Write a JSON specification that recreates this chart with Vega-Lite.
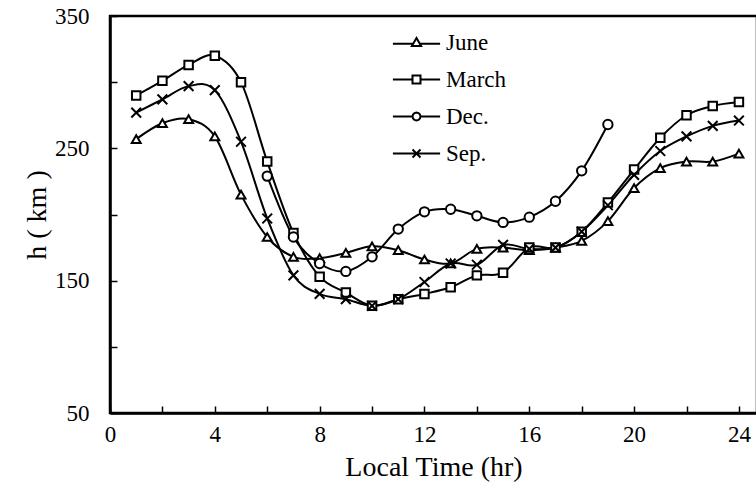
{
  "$schema": "https://vega.github.io/schema/vega-lite/v6.json",
  "width": 647,
  "height": 397,
  "autosize": {"type": "none"},
  "padding": {"left": 110, "top": 16, "right": 0, "bottom": 79},
  "background": "white",
  "config": {
    "view": {"stroke": "black", "strokeWidth": 2.5},
    "font": "Liberation Serif"
  },
  "data": {
    "values": [
      {"month": "June", "t": 1, "h": 257}, {"month": "June", "t": 2, "h": 269}, {"month": "June", "t": 3, "h": 272},
      {"month": "June", "t": 4, "h": 259}, {"month": "June", "t": 5, "h": 215}, {"month": "June", "t": 6, "h": 183},
      {"month": "June", "t": 7, "h": 168}, {"month": "June", "t": 8, "h": 167}, {"month": "June", "t": 9, "h": 171},
      {"month": "June", "t": 10, "h": 176}, {"month": "June", "t": 11, "h": 173}, {"month": "June", "t": 12, "h": 166},
      {"month": "June", "t": 13, "h": 163}, {"month": "June", "t": 14, "h": 174}, {"month": "June", "t": 15, "h": 175},
      {"month": "June", "t": 16, "h": 173}, {"month": "June", "t": 17, "h": 175}, {"month": "June", "t": 18, "h": 180},
      {"month": "June", "t": 19, "h": 195}, {"month": "June", "t": 20, "h": 220}, {"month": "June", "t": 21, "h": 235},
      {"month": "June", "t": 22, "h": 240}, {"month": "June", "t": 23, "h": 240}, {"month": "June", "t": 24, "h": 246},
      {"month": "March", "t": 1, "h": 290}, {"month": "March", "t": 2, "h": 301}, {"month": "March", "t": 3, "h": 313},
      {"month": "March", "t": 4, "h": 320}, {"month": "March", "t": 5, "h": 300}, {"month": "March", "t": 6, "h": 240},
      {"month": "March", "t": 7, "h": 186}, {"month": "March", "t": 8, "h": 153}, {"month": "March", "t": 9, "h": 141},
      {"month": "March", "t": 10, "h": 131}, {"month": "March", "t": 11, "h": 136}, {"month": "March", "t": 12, "h": 140},
      {"month": "March", "t": 13, "h": 145}, {"month": "March", "t": 14, "h": 154}, {"month": "March", "t": 15, "h": 156},
      {"month": "March", "t": 16, "h": 175}, {"month": "March", "t": 17, "h": 175}, {"month": "March", "t": 18, "h": 187},
      {"month": "March", "t": 19, "h": 209}, {"month": "March", "t": 20, "h": 234}, {"month": "March", "t": 21, "h": 258},
      {"month": "March", "t": 22, "h": 275}, {"month": "March", "t": 23, "h": 282}, {"month": "March", "t": 24, "h": 285},
      {"month": "Dec.", "t": 6, "h": 229}, {"month": "Dec.", "t": 7, "h": 183}, {"month": "Dec.", "t": 8, "h": 163},
      {"month": "Dec.", "t": 9, "h": 157}, {"month": "Dec.", "t": 10, "h": 168}, {"month": "Dec.", "t": 11, "h": 189},
      {"month": "Dec.", "t": 12, "h": 202}, {"month": "Dec.", "t": 13, "h": 204}, {"month": "Dec.", "t": 14, "h": 199},
      {"month": "Dec.", "t": 15, "h": 194}, {"month": "Dec.", "t": 16, "h": 198}, {"month": "Dec.", "t": 17, "h": 210},
      {"month": "Dec.", "t": 18, "h": 233}, {"month": "Dec.", "t": 19, "h": 268},
      {"month": "Sep.", "t": 1, "h": 277}, {"month": "Sep.", "t": 2, "h": 287}, {"month": "Sep.", "t": 3, "h": 297},
      {"month": "Sep.", "t": 4, "h": 294}, {"month": "Sep.", "t": 5, "h": 255}, {"month": "Sep.", "t": 6, "h": 197},
      {"month": "Sep.", "t": 7, "h": 154}, {"month": "Sep.", "t": 8, "h": 140}, {"month": "Sep.", "t": 9, "h": 136},
      {"month": "Sep.", "t": 10, "h": 131}, {"month": "Sep.", "t": 11, "h": 136}, {"month": "Sep.", "t": 12, "h": 149},
      {"month": "Sep.", "t": 13, "h": 163}, {"month": "Sep.", "t": 14, "h": 162}, {"month": "Sep.", "t": 15, "h": 177},
      {"month": "Sep.", "t": 16, "h": 174}, {"month": "Sep.", "t": 17, "h": 175}, {"month": "Sep.", "t": 18, "h": 187},
      {"month": "Sep.", "t": 19, "h": 207}, {"month": "Sep.", "t": 20, "h": 230}, {"month": "Sep.", "t": 21, "h": 248},
      {"month": "Sep.", "t": 22, "h": 259}, {"month": "Sep.", "t": 23, "h": 267}, {"month": "Sep.", "t": 24, "h": 271}
    ]
  },
  "encoding": {
    "x": {
      "field": "t", "type": "quantitative",
      "scale": {"domain": [0, 24.69], "nice": false, "zero": false},
      "axis": {
        "title": "Local Time (hr)",
        "values": [0, 2, 4, 6, 8, 10, 12, 14, 16, 18, 20, 22, 24],
        "labelExpr": "datum.value % 4 === 0 ? datum.label : ''",
        "grid": false, "labelFlush": false, "labelOverlap": false,
        "domainColor": "black", "domainWidth": 2.5,
        "tickColor": "black", "tickWidth": 1.5, "tickSize": -7,
        "labelPadding": 17,
        "labelFont": "Liberation Serif", "labelFontSize": 23, "labelColor": "black",
        "titleFont": "Liberation Serif", "titleFontSize": 28, "titleFontWeight": "normal", "titleColor": "black",
        "titlePadding": 7
      }
    },
    "y": {
      "field": "h", "type": "quantitative",
      "scale": {"domain": [50, 350], "nice": false, "zero": false},
      "axis": {
        "title": "h ( km )",
        "values": [50, 100, 150, 200, 250, 300, 350],
        "labelExpr": "datum.value % 100 === 50 ? datum.label : ''",
        "grid": false, "labelFlush": false, "labelOverlap": false,
        "domainColor": "black", "domainWidth": 2.5,
        "tickColor": "black", "tickWidth": 1.5, "tickSize": -7,
        "labelPadding": 28,
        "labelFont": "Liberation Serif", "labelFontSize": 23, "labelColor": "black",
        "titleFont": "Liberation Serif", "titleFontSize": 28, "titleFontWeight": "normal", "titleColor": "black",
        "titlePadding": 3
      }
    }
  },
  "resolve": {"scale": {"shape": "independent"}, "legend": {"shape": "independent"}},
  "layer": [
    {
      "mark": {"type": "line", "interpolate": "cardinal", "color": "black", "strokeWidth": 2},
      "encoding": {"detail": {"field": "month"}}
    },
    {
      "mark": {"type": "point", "filled": false, "fill": "white", "fillOpacity": 1, "stroke": "black", "strokeWidth": 2, "opacity": 1},
      "encoding": {
        "shape": {
          "field": "month", "type": "nominal",
          "scale": {"domain": ["June", "March", "Dec.", "Sep."], "range": ["triangle-up", "square", "circle", "M-1,-1L1,1M-1,1L1,-1"]},
          "legend": null
        },
        "size": {
          "field": "month", "type": "nominal",
          "scale": {"domain": ["March", "June", "Dec.", "Sep."], "range": [72, 95, 60, 100]},
          "legend": null
        }
      }
    },
    {
      "transform": [{"filter": "datum.t < 0"}],
      "mark": {"type": "point", "filled": false, "color": "black", "strokeWidth": 2, "opacity": 1},
      "encoding": {
        "shape": {
          "field": "month", "type": "nominal",
          "scale": {
            "domain": ["June", "March", "Dec.", "Sep."],
            "range": [
              "M-5.9,0.3L-0.75,0.3M0.75,0.3L5.9,0.3M0,-1.1L1.15,0.9L-1.15,0.9Z",
              "M-5.9,0L-1,0M1,0L5.9,0M-1,-1L1,-1L1,1L-1,1Z",
              "M-5.9,0L-1,0M1,0L5.9,0M1,0L0.866,0.5L0.5,0.866L0,1L-0.5,0.866L-0.866,0.5L-1,0L-0.866,-0.5L-0.5,-0.866L0,-1L0.5,-0.866L0.866,-0.5Z",
              "M-5.9,0L5.9,0M-1,-1L1,1M-1,1L1,-1"
            ]
          },
          "legend": {
            "orient": "none", "legendX": 288, "legendY": 15, "title": null, "padding": 0,
            "labelFont": "Liberation Serif", "labelFontSize": 23, "labelColor": "black",
            "symbolSize": 64, "symbolStrokeWidth": 2, "symbolOffset": 7,
            "labelOffset": 18, "rowPadding": 13
          }
        }
      }
    }
  ]
}
